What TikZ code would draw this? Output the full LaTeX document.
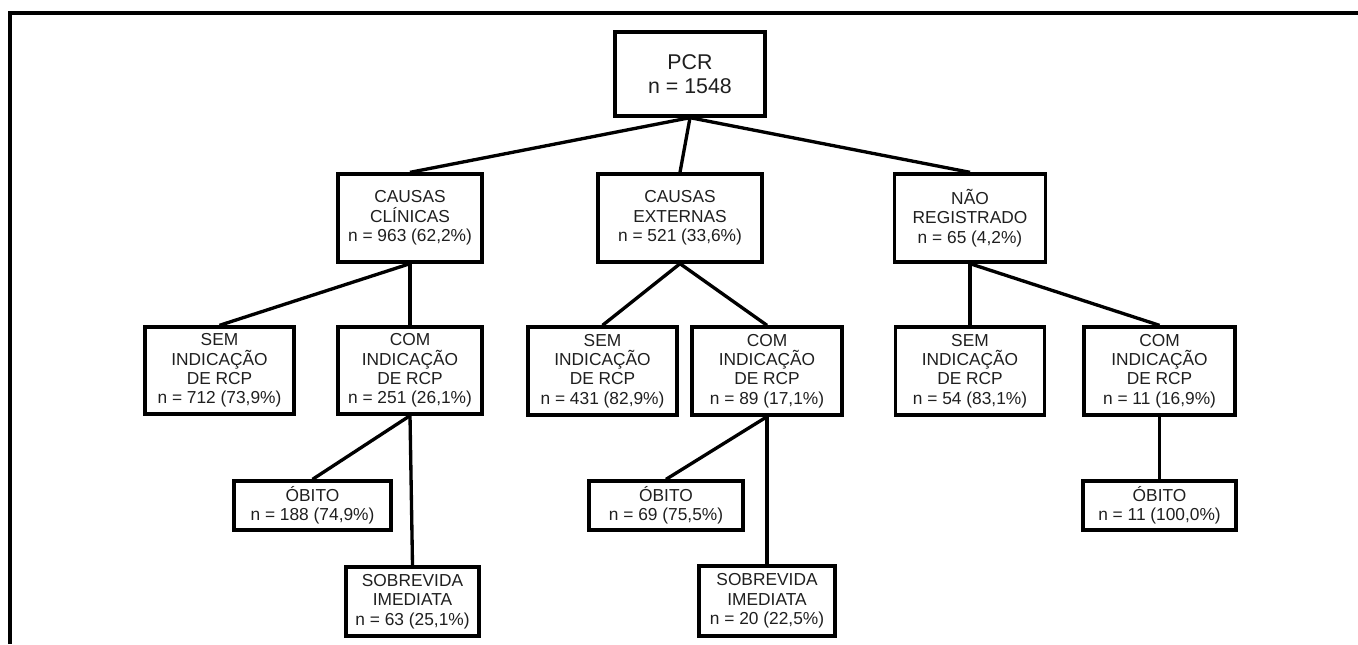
\documentclass[tikz,border=0pt]{standalone}
\usepackage{fontspec}
\setmainfont{Liberation Sans}
\begin{document}
\begin{tikzpicture}[x=0.75pt,y=-0.75pt,
  box/.style={draw=black, line width=2.5pt, align=center, inner sep=0pt,
    font=\fontsize{13}{14.5}\selectfont, text=black!88},
  topbox/.style={box, font=\fontsize{16}{17.6}\selectfont},
  link/.style={draw=black, line width=2.5pt}]
\useasboundingbox (0,0) rectangle (1358,644);
\coordinate (f1) at (10,644);
\coordinate (f2) at (10,13);
\coordinate (f3) at (1358,13);
\draw[line width=2.5pt] (f1) -- (f2) -- (f3);

\node[topbox, minimum width=112.5pt, minimum height=63pt] (pcr) at (690,74) {PCR\\n = 1548};

\node[box, minimum width=108pt, minimum height=66pt] (cc) at (410,218) {CAUSAS\\CLÍNICAS\\n = 963 (62,2\%)};
\node[box, minimum width=123pt, minimum height=66pt] (ce) at (680,218) {CAUSAS\\EXTERNAS\\n = 521 (33,6\%)};
\node[box, minimum width=113.25pt, minimum height=66pt] (nr) at (970,218) {NÃO\\REGISTRADO\\n = 65 (4,2\%)};

\node[box, minimum width=111.75pt, minimum height=65.25pt] (s1) at (219.5,370.5) {SEM\\INDICAÇÃO\\DE RCP\\n = 712 (73,9\%)};
\node[box, minimum width=108pt, minimum height=65.25pt] (c1) at (410,370.5) {COM\\INDICAÇÃO\\DE RCP\\n = 251 (26,1\%)};
\node[box, minimum width=111.75pt, minimum height=66pt] (s2) at (602.5,371) {SEM\\INDICAÇÃO\\DE RCP\\n = 431 (82,9\%)};
\node[box, minimum width=112.5pt, minimum height=66pt] (c2) at (767,371) {COM\\INDICAÇÃO\\DE RCP\\n = 89 (17,1\%)};
\node[box, minimum width=111.75pt, minimum height=66pt] (s3) at (970,371) {SEM\\INDICAÇÃO\\DE RCP\\n = 54 (83,1\%)};
\node[box, minimum width=113.25pt, minimum height=66pt] (c3) at (1159.5,371) {COM\\INDICAÇÃO\\DE RCP\\n = 11 (16,9\%)};

\node[box, minimum width=117.75pt, minimum height=36.75pt] (o1) at (312.5,505.5) {ÓBITO\\n = 188 (74,9\%)};
\node[box, minimum width=99.75pt, minimum height=51.75pt] (v1) at (412.5,601.5) {SOBREVIDA\\IMEDIATA\\n = 63 (25,1\%)};
\node[box, minimum width=115.5pt, minimum height=36.75pt] (o2) at (666,505.5) {ÓBITO\\n = 69 (75,5\%)};
\node[box, minimum width=102pt, minimum height=52.5pt] (v2) at (767,601) {SOBREVIDA\\IMEDIATA\\n = 20 (22,5\%)};
\node[box, minimum width=114.75pt, minimum height=36.75pt] (o3) at (1159.5,505.5) {ÓBITO\\n = 11 (100,0\%)};

\draw[link] (pcr.south) -- (cc.north);
\draw[link] (pcr.south) -- (ce.north);
\draw[link] (pcr.south) -- (nr.north);
\draw[link] (cc.south) -- (s1.north);
\draw[link] (cc.south) -- (c1.north);
\draw[link] (ce.south) -- (s2.north);
\draw[link] (ce.south) -- (c2.north);
\draw[link] (nr.south) -- (s3.north);
\draw[link] (nr.south) -- (c3.north);
\draw[link] (c1.south) -- (o1.north);
\draw[link] (c1.south) -- (v1.north);
\draw[link] (c2.south) -- (o2.north);
\draw[link] (c2.south) -- (v2.north);
\draw[link] (c3.south) -- (o3.north);
\end{tikzpicture}
\end{document}
